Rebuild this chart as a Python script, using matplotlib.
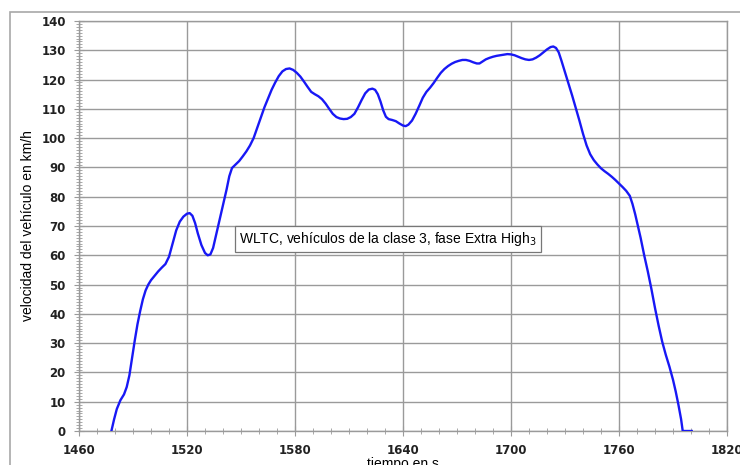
import matplotlib.pyplot as plt
from matplotlib.patches import Rectangle
from matplotlib.ticker import MultipleLocator

# tiempo (s) y velocidad (km/h)
tiempo = [1478, 1479.5, 1481, 1483, 1485, 1486.5, 1488, 1489.5, 1491, 1492.5,
          1494, 1495.5, 1497, 1498.5, 1500, 1502, 1504, 1506, 1508, 1510,
          1512, 1514, 1516, 1518, 1520, 1521.5, 1523, 1524.5, 1526, 1528,
          1530, 1531.5, 1533, 1534.5, 1536, 1538, 1540, 1542, 1543.5, 1545,
          1547, 1549, 1551, 1553, 1555, 1557, 1559, 1561, 1563, 1565,
          1567, 1569, 1571, 1573, 1575, 1577, 1579, 1581, 1583, 1585,
          1587, 1589, 1591, 1593, 1595, 1597, 1599, 1601, 1603, 1605,
          1607, 1609, 1611, 1613, 1615, 1617, 1619, 1621, 1623, 1624.5,
          1626, 1627.5, 1629, 1630.5, 1632, 1634, 1636, 1638, 1640, 1641.5,
          1643, 1645, 1647, 1649, 1651, 1653, 1655, 1657, 1659, 1661,
          1663, 1665, 1667, 1669, 1671, 1673, 1675, 1677, 1679, 1681,
          1682.5, 1684, 1686, 1688, 1690, 1692, 1694, 1696, 1698, 1700,
          1702, 1704, 1706, 1708, 1710, 1712, 1714, 1716, 1718, 1720,
          1722, 1723.5, 1725, 1726.5, 1728, 1730, 1732, 1734, 1736, 1738,
          1740, 1742, 1744, 1746, 1748, 1750, 1752, 1754, 1756, 1758,
          1760, 1762, 1764, 1766, 1767.5, 1769, 1770.5, 1772, 1774, 1776,
          1778, 1780, 1782, 1784, 1786, 1788, 1790, 1791.5, 1793, 1794.5,
          1795.4, 1800.4]
velocidad = [0, 4, 7.5, 10.5, 12.5, 15, 19, 25, 31, 36.5,
             41, 45, 48, 50, 51.5, 53, 54.5, 55.8, 57, 59.5,
             64, 68.5, 71.5, 73.2, 74.2, 74.4, 73.5, 71, 67.5, 63.5,
             60.8, 60, 60.3, 62.5, 66.5, 72, 77, 82.5, 87, 89.8,
             91, 92.2, 93.8, 95.5, 97.5, 100, 103.5, 107, 110.5, 113.5,
             116.5, 119, 121.2, 122.8, 123.6, 123.8, 123.3, 122.3, 121, 119.3,
             117.5, 115.8, 115, 114.3, 113.3, 111.8, 110, 108.3, 107.2, 106.7,
             106.5, 106.6, 107.2, 108.3, 110.5, 113, 115.3, 116.6, 116.9, 116.5,
             115, 112.5, 109.5, 107.3, 106.5, 106.2, 105.8, 105, 104.3, 104.1,
             104.6, 106, 108.3, 111, 113.8, 115.8, 117.2, 118.8, 120.6, 122.3,
             123.6, 124.6, 125.4, 126, 126.4, 126.7, 126.7, 126.4, 125.9, 125.5,
             125.5, 126.1, 126.9, 127.4, 127.8, 128.1, 128.3, 128.5, 128.7, 128.6,
             128.3, 127.8, 127.3, 126.9, 126.7, 126.9, 127.5, 128.3, 129.3, 130.3,
             131.1, 131.3, 130.8, 129.3, 126.5, 122.5, 118.5, 114.5, 110.3, 106,
             101.5, 97.5, 94.5, 92.5, 91, 89.7, 88.7, 87.8, 86.8, 85.7,
             84.5, 83.3, 82, 80.3, 77.5, 74, 70, 66, 60, 54.5,
             48.5, 42, 36, 30.5, 26, 22, 17.5, 13.5, 9, 4,
             0, 0]

x_ticks = [1460, 1520, 1580, 1640, 1700, 1760, 1820]
y_ticks = list(range(0, 141, 10))

grey = "#9a9a9a"
sans = ["Liberation Sans", "DejaVu Sans"]

fig = plt.figure(figsize=(7.4, 4.65), dpi=100)
fig.patches.append(Rectangle((10 / 740, -0.2), 1.2, 1.2 - 12 / 465,
                             transform=fig.transFigure, fill=False,
                             edgecolor="#a8a8a8", linewidth=1.2))
ax = fig.add_axes([79 / 740, 1 - 431 / 465, 648 / 740, 410 / 465])

ax.plot(tiempo, velocidad, color="#1818f5", linewidth=1.7, zorder=3)

ax.set_xlim(1460, 1820)
ax.set_ylim(0, 140)
ax.set_xticks(x_ticks)
ax.set_yticks(y_ticks)
ax.xaxis.set_minor_locator(MultipleLocator(10))
ax.yaxis.set_minor_locator(MultipleLocator(1))
ax.grid(True, which="major", color=grey, linewidth=1.0)
ax.set_axisbelow(True)

for s in ax.spines.values():
    s.set_color(grey)
    s.set_linewidth(1.0)

ax.tick_params(which="major", direction="inout", length=7, color=grey,
               labelsize=8.5, labelcolor="#222222")
ax.tick_params(which="minor", direction="inout", length=5, color=grey)
ax.tick_params(axis="x", pad=6)
ax.tick_params(axis="y", pad=6)
for lab in ax.get_xticklabels() + ax.get_yticklabels():
    lab.set_fontweight("semibold")

ax.set_ylabel("velocidad del vehículo en km/h", fontsize=10, family=sans)
ax.yaxis.set_label_coords(-44 / 648, 0.5)
ax.set_xlabel("tiempo en s", fontsize=10, family=sans, labelpad=0)

ax.text(1549, 65.5, "WLTC, vehículos de la clase 3, fase Extra High$_3$",
        fontsize=10, family=sans, va="center", ha="left", zorder=4,
        bbox=dict(boxstyle="square,pad=0.3", facecolor="white",
                  edgecolor="#777777", linewidth=0.9))

fig.savefig("out.png", dpi=100)
plt.close(fig)
